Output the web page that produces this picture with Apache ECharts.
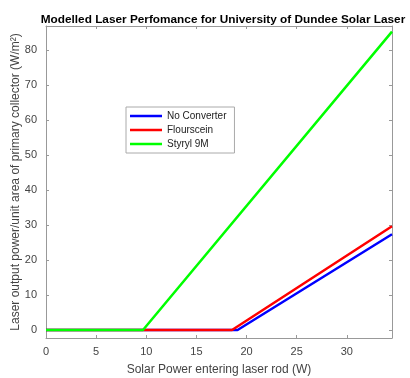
<!DOCTYPE html>
<html>
<head>
<meta charset="utf-8">
<script src="https://cdn.jsdelivr.net/npm/echarts@6/dist/echarts.min.js"></script>
<style>
  html, body { margin: 0; padding: 0; background: #fff; }
  #chart { width: 410px; height: 378px; }
</style>
</head>
<body>
<div id="chart"></div>
<script>
// values
var seriesNames = ['No Converter', 'Flourscein', 'Styryl 9M'];
var noConverterX = [0, 19.1, 34.5];
var noConverterY = [0, 0, 27.4];
var floursceinX = [0, 18.55, 34.5];
var floursceinY = [0, 0, 29.7];
var styrylX = [0, 9.67, 34.5];
var styrylY = [0, 0, 85.4];
var xTicks = [0, 5, 10, 15, 20, 25, 30];
var yTicks = [0, 10, 20, 30, 40, 50, 60, 70, 80];
var colors = ['#0000ff', '#ff0000', '#00ff00'];

var pairs = function(xs, ys){
    var out = [];
    for (var i = 0; i < xs.length; i++) { out.push([xs[i], ys[i]]); }
    return out;
};

var font = 'Liberation Sans, Arial, sans-serif';
var axisGray = '#999999';
var labelGray = '#444444';

var baseAxis = function(extra){
    var a = {
        type: 'value',
        axisLine: { show: true, onZero: false, lineStyle: { color: axisGray, width: 1 } },
        axisTick: { show: true, inside: true, length: 3, lineStyle: { color: axisGray } },
        splitLine: { show: false },
        axisLabel: { show: false }
    };
    for (var k in extra) { a[k] = extra[k]; }
    return a;
};

var myChart = echarts.init(document.getElementById('chart'));
var option = {
    backgroundColor: '#ffffff',
    animation: false,
    title: {
        text: 'Modelled Laser Perfomance for University of Dundee Solar Laser',
        left: 218,
        textAlign: 'center',
        top: 9,
        textStyle: { fontFamily: font, fontSize: 11.8, fontWeight: 'bold', color: '#000' }
    },
    legend: {
        data: seriesNames,
        orient: 'vertical',
        left: 126,
        top: 107,
        padding: [3, 8, 3, 4],
        itemGap: 2,
        itemWidth: 32,
        itemHeight: 2.5,
        borderColor: '#aaaaaa',
        borderWidth: 1,
        backgroundColor: '#fff',
        icon: 'rect',
        textStyle: { fontFamily: font, fontSize: 10, color: '#222', lineHeight: 12 },
        selectedMode: false
    },
    grid: { left: 46, right: 18, top: 26, bottom: 40, outerBoundsMode: 'none', containLabel: false },
    xAxis: [
        baseAxis({
            position: 'bottom', min: 0, max: 34.5,
            name: 'Solar Power entering laser rod (W)',
            nameLocation: 'middle', nameGap: 26, nameMoveOverlap: false,
            nameTextStyle: { fontFamily: font, fontSize: 12, color: labelGray },
            axisTick: { show: true, inside: true, length: 3, customValues: xTicks, lineStyle: { color: axisGray } },
            axisLabel: { show: true, customValues: xTicks, margin: 8, fontFamily: font, fontSize: 11, color: labelGray }
        }),
        baseAxis({
            position: 'top', min: 0, max: 34.5,
            axisTick: { show: true, inside: true, length: 3, customValues: xTicks, lineStyle: { color: axisGray } }
        })
    ],
    yAxis: [
        baseAxis({
            position: 'left', min: -2.3, max: 87,
            name: 'Laser output power/unit area of primary collector (W/m\u00b2)',
            nameLocation: 'middle', nameGap: 24, nameMoveOverlap: false,
            nameTextStyle: { fontFamily: font, fontSize: 12, color: labelGray },
            axisTick: { show: true, inside: true, length: 3, customValues: yTicks, lineStyle: { color: axisGray } },
            axisLabel: { show: true, customValues: yTicks, margin: 9, fontFamily: font, fontSize: 11, color: labelGray }
        }),
        baseAxis({
            position: 'right', min: -2.3, max: 87,
            axisTick: { show: true, inside: true, length: 3, customValues: yTicks, lineStyle: { color: axisGray } }
        })
    ],
    series: [
        { name: seriesNames[0], type: 'line', data: pairs(noConverterX, noConverterY), showSymbol: false,
          lineStyle: { color: colors[0], width: 2.5 }, itemStyle: { color: colors[0] } },
        { name: seriesNames[1], type: 'line', data: pairs(floursceinX, floursceinY), showSymbol: false,
          lineStyle: { color: colors[1], width: 2.5 }, itemStyle: { color: colors[1] } },
        { name: seriesNames[2], type: 'line', data: pairs(styrylX, styrylY), showSymbol: false,
          lineStyle: { color: colors[2], width: 2.5 }, itemStyle: { color: colors[2] } }
    ]
};
myChart.setOption(option);
</script>
</body>
</html>
